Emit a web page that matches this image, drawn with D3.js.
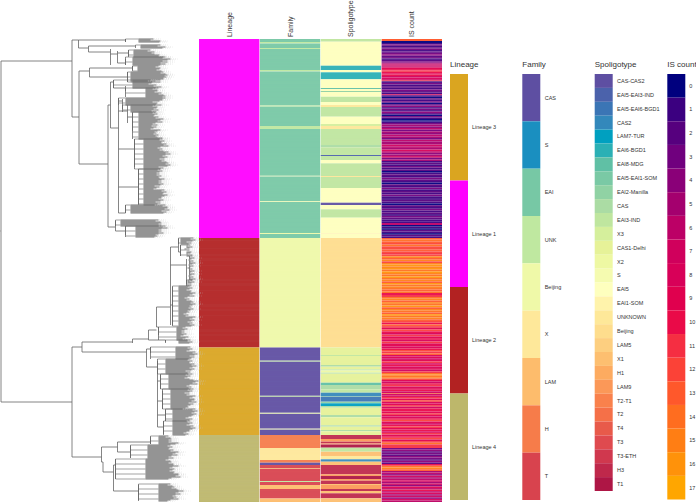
<!DOCTYPE html>
<html>
    <head>
        <title>Tree and heatmap</title>
        <meta charset="utf-8">
        <style>
            body{ margin:0; background:#fff; }
            text{ font-family:"Liberation Sans", Arial, sans-serif; fill:#333; }
        </style>
    </head>
    <body>
        <script src="https://cdn.jsdelivr.net/npm/d3@7"></script>
        <script>

            var width = 696;
            var height = 502;

            // categories, in legend order
            var lineages = ["Lineage 3", "Lineage 1", "Lineage 2", "Lineage 4"];
            var families = ["CAS", "S", "EAI", "UNK", "Beijing", "X", "LAM", "H", "T"];
            var spoligotypes = ["CAS-CAS2", "EAI5-EAI3-IND", "EAI5-EAI6-BGD1", "CAS2", "LAM7-TUR", "EAI6-BGD1",
                "EAI8-MDG", "EAI5-EAI1-SOM", "EAI2-Manilla", "CAS", "EAI3-IND", "X3", "CAS1-Delhi", "X2", "S",
                "EAI5", "EAI1-SOM", "UNKNOWN", "Beijing", "LAM5", "X1", "H1", "LAM9", "T2-T1", "T2", "T4", "T3",
                "T3-ETH", "H3", "T1"];
            var isCounts = d3.range(18);

            var lineageColors = ["#daa520", "#ff00ff", "#b22222", "#bdb76b"];
            var familyColors = ["#5e4fa2", "#1a8fc0", "#77c8a5", "#bfe8a0", "#eff9a8", "#fee89a", "#fdbc6c", "#f67c4a", "#d8434e"];
            var spoligoColors = ["#5e4fa2", "#4b62ab", "#3b75b5", "#3388bb", "#00a0c0", "#2bb0b5", "#60c0a5", "#7ac9a5",
                "#90d2a4", "#abdca4", "#bfe69f", "#d5ef9c", "#e6f298", "#eef8a3", "#f5fbb0", "#feffbe", "#fff3ab",
                "#fee899", "#fedd8d", "#fdcf80", "#fdbf70", "#fdab60", "#fb9858", "#f9814c", "#f57048", "#e85a4a",
                "#df4a4f", "#d0384e", "#bf284b", "#ae1645"];
            var isColors = ["#00007e", "#3b0080", "#56007e", "#70007e", "#8a0078", "#a4006e", "#bc0066", "#d0005c", "#d80058",
                "#e0004e", "#ea0a48", "#f52e42", "#fb4237", "#ff582b", "#ff6d1f", "#ff7e14", "#ff920a", "#ffa600"];

            // heatmap columns: [category, position where the run ends], top to bottom
            var lineageRuns = [["Lineage 1", 199], ["Lineage 2", 308.5], ["Lineage 3", 396], ["Lineage 4", 463]];

            var familyRuns = [["EAI", 3], ["UNK", 4.5], ["EAI", 9], ["UNK", 10], ["EAI", 31], ["UNK", 32.5], ["EAI", 66.5],
                ["UNK", 67.7], ["EAI", 87], ["UNK", 90], ["EAI", 136.8], ["Beijing", 137.5], ["EAI", 162.3], ["Beijing", 163],
                ["EAI", 194], ["Beijing", 195], ["EAI", 199], ["Beijing", 308.5], ["CAS", 321.7], ["UNK", 322.7], ["CAS", 356.8],
                ["UNK", 357.8], ["CAS", 373.8], ["Beijing", 374.8], ["CAS", 389.7], ["Beijing", 390.6], ["CAS", 396], ["H", 409],
                ["X", 421], ["H", 423.7], ["CAS", 426], ["T", 429], ["LAM", 429.8], ["T", 442], ["UNK", 443], ["T", 446],
                ["LAM", 450], ["T", 459.5], ["LAM", 463]];

            var spoligoRuns = [["EAI3-IND", 2.7], ["EAI5", 26.7], ["EAI6-BGD1", 31], ["EAI5", 33.3], ["EAI6-BGD1", 40.3],
                ["EAI5", 49], ["EAI8-MDG", 50], ["EAI5", 52], ["EAI2-Manilla", 53], ["EAI5", 57.7], ["EAI3-IND", 63], ["EAI5", 66],
                ["UNKNOWN", 68], ["EAI3-IND", 77.7], ["EAI5", 85], ["X3", 87], ["UNKNOWN", 90], ["EAI3-IND", 106], ["CAS", 108.3],
                ["EAI3-IND", 116], ["EAI5-EAI3-IND", 117], ["EAI3-IND", 121], ["EAI5", 124.3], ["EAI3-IND", 137], ["UNKNOWN", 138],
                ["EAI3-IND", 149], ["EAI5", 163.7], ["CAS-CAS2", 166], ["EAI5", 170.3], ["EAI3-IND", 178.7], ["EAI5", 194.3],
                ["EAI1-SOM", 195], ["EAI5", 199], ["Beijing", 308.5], ["CAS1-Delhi", 316], ["EAI3-IND", 317], ["CAS1-Delhi", 326],
                ["CAS", 327.7], ["CAS1-Delhi", 330.3], ["EAI3-IND", 331.5], ["X2", 333.7], ["CAS", 334.7], ["CAS1-Delhi", 343.7],
                ["EAI8-MDG", 346], ["CAS", 350.3], ["EAI3-IND", 353.7], ["CAS2", 357], ["EAI2-Manilla", 357.7],
                ["EAI5-EAI6-BGD1", 362.7], ["EAI2-Manilla", 364.3], ["LAM7-TUR", 367], ["CAS", 368.7], ["CAS1-Delhi", 376],
                ["CAS", 378.3], ["CAS1-Delhi", 386.3], ["CAS", 387.7], ["CAS1-Delhi", 391], ["CAS", 392.3], ["CAS1-Delhi", 396],
                ["H3", 400], ["LAM9", 402.7], ["H3", 404.5], ["LAM9", 405.5], ["T1", 408.7], ["EAI3-IND", 412.7], ["X1", 417],
                ["UNKNOWN", 420.3], ["CAS2", 422.7], ["X1", 426], ["H3", 435.3], ["LAM9", 437], ["T1", 440], ["LAM9", 441.7],
                ["H3", 445], ["X1", 446], ["LAM9", 450], ["H3", 452], ["X1", 454.3], ["H3", 459.3], ["X1", 463]];

            // IS count: [position where the block ends, values read in that block]
            var isBlocks = [[2, [13]], [4, [0]],
                [23.7, [1, 3, 1, 2, 3, 1, 2, 3, 4, 2, 3, 1, 2, 3]],
                [28.7, [5, 6, 7, 6, 7]],
                [37, [9, 10, 11, 10, 9, 10]],
                [41.7, [7, 8, 7]],
                [42.3, [13]],
                [55.3, [1, 3, 1, 2, 1, 3, 2, 1]],
                [56.3, [9]],
                [80, [1, 0, 2, 1, 3, 0, 2, 4, 1, 3, 1, 4, 2, 0, 3, 1]],
                [84, [0, 0, 1]],
                [104, [3, 5, 4, 6, 3, 5, 4, 6, 5, 3, 6, 5]],
                [122, [5, 7, 6, 5, 8, 6, 4, 5, 7, 3, 5]],
                [152, [1, 2, 1, 3, 1, 2, 0, 1, 2, 1, 3, 2, 1, 0, 2, 1, 3, 1]],
                [184, [2, 1, 3, 1, 1, 2, 1, 0, 2, 1, 3, 1, 2, 1, 3, 2, 1, 1]],
                [186, [6]],
                [199, [0, 1, 0, 2, 1, 0, 2, 1]],
                [224, [13, 14, 13, 12, 14, 12, 12, 13, 12, 11, 12, 15, 13, 15, 12]],
                [254, [15, 16, 15, 16, 14, 16, 15, 14, 16, 14, 15, 13, 16, 14, 15, 14, 13, 14]],
                [258, [10, 11]],
                [282, [14, 15, 13, 15, 14, 16, 13, 15, 14, 13, 16, 14, 15, 13]],
                [306, [12, 10, 13, 11, 9, 12, 10, 8, 11, 9, 10, 8, 11, 9]],
                [311, [9, 8, 10]],
                [316, [12, 11, 13]],
                [334, [8, 9, 7, 9, 11, 8, 10, 8, 9, 7, 11]],
                [341, [14, 15, 14, 15, 12]],
                [354, [9, 7, 10, 11, 8, 9, 10, 7]],
                [354.7, [15]],
                [371, [7, 8, 11, 9, 12, 8, 9, 11, 7, 10]],
                [407, [10, 9, 11, 9, 8, 10, 12, 9, 7, 10, 11, 9, 10, 8, 11, 9, 10, 12, 9, 11, 14, 11]],
                [409, [11]],
                [425, [3, 4, 2, 3, 2, 4, 3, 2, 4, 2]],
                [432, [10, 14, 15, 13]],
                [463, [5, 6, 4, 7, 5, 6, 8, 5, 7, 4, 9, 6, 10, 6, 8, 5, 7, 4, 8, 6]]];

            // tree branches: [parent distance, node distance, position, child top, child bottom]
            var treeBranches = [
                [0, 0.5, 192, 22, 363],
                [0.5, 71.5, 22, 1, 78],
                [71.5, 78, 1, 1, 9],
                [78, 125, 1, 0, 3],
                [78, 88, 9, 7, 13],
                [88, 135, 7, 7, 7],
                [88, 110, 13, 10, 26],
                [110, 117, 15, 12, 24],
                [117, 128, 14, 11, 17],
                [117, 125, 24, 20, 26],
                [71.5, 78.5, 78, 32, 125],
                [78.5, 89, 32, 29, 38],
                [89, 132, 29, 27, 31],
                [89, 127, 38, 33, 43],
                [78.5, 107.5, 125, 66, 188],
                [107.5, 110, 66, 43, 89],
                [110, 113, 43, 41, 49],
                [113, 125, 49, 47, 52],
                [110, 118, 89, 59, 174],
                [118, 122, 62, 60, 70],
                [118, 127, 72, 66, 84],
                [127, 132, 78, 74, 92],
                [118, 134, 110, 100, 128],
                [118, 138, 148, 130, 165],
                [118, 125, 174, 166, 174],
                [107.5, 115, 188, 182, 192],
                [115, 125, 192, 187, 196],
                [0.5, 71.5, 363, 308, 418],
                [71.5, 81.5, 308, 303, 313],
                [81.5, 132, 303, 300, 304],
                [132, 148, 300, 291, 301],
                [148, 156, 291, 268, 288],
                [156, 170, 268, 208, 286],
                [170, 178, 208, 200, 213],
                [178, 180, 213, 206, 217],
                [170, 186, 226, 220, 245],
                [170, 172, 266, 248, 286],
                [156, 158, 288, 288, 296],
                [148, 165, 301, 301, 303],
                [81.5, 146, 313, 310, 328],
                [146, 150, 310, 308, 314],
                [146, 157, 328, 322, 388],
                [157, 160, 342, 336, 350],
                [157, 162, 362, 352, 370],
                [157, 165, 376, 371, 382],
                [157, 163, 388, 382, 395],
                [71.5, 101, 418, 408, 423],
                [101, 117, 408, 403, 413],
                [117, 150, 403, 398, 405],
                [117, 130, 413, 407, 419],
                [101, 102.5, 423, 423, 433],
                [102.5, 113, 433, 426, 452],
                [113, 115, 426, 420, 440],
                [113, 138, 452, 446, 461]
            ];

            // dense leaf groups: [stem, start of mass, first position, last position, tip distances]
            var leafClumps = [
                [125, 138, 0, 3, [153, 158, 160]],
                [135, 140, 6, 9, [160, 163]],
                [128, 133, 11, 18, [150, 152, 158, 160]],
                [125, 132, 18, 26, [165, 168, 166, 162, 160]],
                [132, 137, 27, 32, [158, 160]],
                [127, 130, 33, 43, [163, 168, 165, 160, 158]],
                [113, 132, 41, 49, [150, 152, 155, 158]],
                [125, 145, 49, 58, [155, 158, 160, 165]],
                [118, 125, 59, 66, [165, 160, 156, 158]],
                [122, 130, 66, 73, [155, 157, 153]],
                [132, 138, 73, 100, [155, 157, 160, 156, 153, 158, 155, 160]],
                [134, 143, 100, 130, [162, 165, 160, 167, 165, 163, 168, 162]],
                [138, 143, 130, 166, [160, 158, 162, 160, 157, 163, 165, 160, 158]],
                [125, 130, 166, 174, [165, 168, 163]],
                [115, 120, 181, 187, [158, 162, 160]],
                [125, 135, 187, 198, [165, 162, 160, 158, 155]],
                [178, 180, 199, 205, [193, 190]],
                [180, 186, 206, 217, [190, 188, 190]],
                [189, 189.5, 217, 241, [192, 191, 192]],
                [186, 187, 241, 247, [192, 190]],
                [172, 178, 247, 287, [190, 192, 188, 193, 190, 187, 192, 191]],
                [158, 176, 288, 301, [185, 183, 186]],
                [165, 178, 301, 304, [190]],
                [150, 175, 308, 320, [190, 194, 192]],
                [157, 165, 320, 335, [190, 193, 192, 189]],
                [160, 168, 335, 350, [188, 195, 190]],
                [162, 170, 350, 370, [190, 188, 192, 195, 190, 186]],
                [165, 172, 370, 382, [195, 195, 188, 190]],
                [163, 172, 382, 396, [190, 192, 187]],
                [150, 158, 397, 405, [168, 172, 170, 175]],
                [130, 147, 406, 419, [170, 172, 175, 172]],
                [115, 145, 420, 440, [168, 172, 175, 172, 173, 175, 178, 172]],
                [138, 158, 445, 462, [170, 175, 180, 178, 176, 175, 170]]
            ];
            var tipOffsets = [0, -3, 2, -1, -4, 1, -2, 3];
            var columnTitles = ["Lineage", "Family", "Spoligotype", "IS count"];

            var svg = d3.select("body")
                    .append("svg")
                    .attr("width", width)
                    .attr("height", height);

            // the picture is soft, rows bleed into each other a bit
            var soft = svg.append("defs").append("filter")
                    .attr("id", "soft")
                    .attr("filterUnits", "userSpaceOnUse")
                    .attr("x", 0).attr("y", 0)
                    .attr("width", width).attr("height", height);
            soft.append("feGaussianBlur").attr("stdDeviation", "0.2 0.45");

            // shared scales
            var yPos = d3.scaleLinear().domain([0, 463]).range([39, 502]);
            var xDist = d3.scaleLinear().domain([0, 200]).range([0.5, 200.5]);
            var xCol = d3.scaleBand().domain(columnTitles).range([199, 442]).paddingInner(0.008);

            function runsToCells(runs, colorOf) {
              var start = 0;
              return runs.map(function(r) {
                var cell = {y0: start, y1: r[1], fill: colorOf(r[0])};
                start = r[1];
                return cell;
              });
            }

            var lineageColor = d3.scaleOrdinal().domain(lineages).range(lineageColors);
            var familyColor = d3.scaleOrdinal().domain(families).range(familyColors);
            var spoligoColor = d3.scaleOrdinal().domain(spoligotypes).range(spoligoColors);
            var isColor = d3.scaleOrdinal().domain(isCounts).range(isColors);

            var isCells = [];
            var blockStart = 0;
            isBlocks.forEach(function(b) {
              var step = (b[0] - blockStart) / b[1].length;
              b[1].forEach(function(v, i) {
                isCells.push({y0: blockStart + i * step, y1: blockStart + (i + 1) * step, fill: isColor(v)});
              });
              blockStart = b[0];
            });

            var columns = [
              {name: "Lineage", cells: runsToCells(lineageRuns, lineageColor)},
              {name: "Family", cells: runsToCells(familyRuns, familyColor)},
              {name: "Spoligotype", cells: runsToCells(spoligoRuns, spoligoColor)},
              {name: "IS count", cells: isCells}
            ];

            // heatmap
            var heat = svg.append("g").attr("filter", "url(#soft)");

            var col = heat.selectAll("g.col")
                    .data(columns)
                    .enter()
                    .append("g")
                    .attr("class", "col");

            col.selectAll("rect")
                    .data(function(d) { return d.cells.map(function(c) { return {c: c, name: d.name}; }); })
                    .enter()
                    .append("rect")
                    .attr("x", function(d) { return xCol(d.name); })
                    .attr("width", xCol.bandwidth())
                    .attr("y", function(d) { return yPos(d.c.y0); })
                    .attr("height", function(d) { return yPos(d.c.y1) - yPos(d.c.y0); })
                    .attr("fill", function(d) { return d.c.fill; });

            // thin white borders between the rows
            var rowLines = d3.scaleLinear().domain([0, 500]).range([39, 502]);
            heat.selectAll("line.row")
                    .data(d3.range(1, 500))
                    .enter()
                    .append("line")
                    .attr("class", "row")
                    .attr("x1", 199)
                    .attr("x2", 442)
                    .attr("y1", function(d) { return rowLines(d); })
                    .attr("y2", function(d) { return rowLines(d); })
                    .attr("stroke", "#fff")
                    .attr("stroke-width", 0.07);

            svg.selectAll("text.coltitle")
                    .data(columnTitles)
                    .enter()
                    .append("text")
                    .attr("class", "coltitle")
                    .attr("transform", function(d) {
                      return "translate(" + (xCol(d) + xCol.bandwidth() / 2 + 2.5) + ",37) rotate(-90)";
                    })
                    .attr("font-size", 7)
                    .text(function(d) { return d; });

            // tree
            var treeG = svg.append("g")
                    .attr("filter", "url(#soft)")
                    .attr("fill", "none")
                    .attr("stroke", "#666")
                    .attr("stroke-width", 0.8);

            treeG.selectAll("path.branch")
                    .data(treeBranches)
                    .enter()
                    .append("path")
                    .attr("class", "branch")
                    .attr("d", function(b) {
                      var p = d3.path();
                      p.moveTo(xDist(b[0]), yPos(b[2]));
                      p.lineTo(xDist(b[1]), yPos(b[2]));
                      p.moveTo(xDist(b[1]), yPos(b[3]));
                      p.lineTo(xDist(b[1]), yPos(b[4]));
                      return p.toString();
                    });

            var leafRows = [];
            leafClumps.forEach(function(c) {
              d3.range(c[2], c[3] + 0.1).forEach(function(pos, i) {
                var frac = (pos - c[2]) / (c[3] - c[2] + 1);
                var tip = c[4][Math.floor(frac * c[4].length)] + tipOffsets[i % tipOffsets.length];
                leafRows.push({stem: c[0], mass: c[1], pos: pos, tip: tip, thin: i % 5 === 0});
              });
            });

            treeG.selectAll("path.clumpstem")
                    .data(leafClumps)
                    .enter()
                    .append("path")
                    .attr("class", "clumpstem")
                    .attr("d", function(c) {
                      var p = d3.path();
                      p.moveTo(xDist(c[0]), yPos(c[2]));
                      p.lineTo(xDist(c[0]), yPos(c[3]));
                      return p.toString();
                    });

            // stems to the mass, the mass itself, then the tiny grey tip labels
            treeG.selectAll("line.stem")
                    .data(leafRows.filter(function(d) { return d.thin; }))
                    .enter()
                    .append("line")
                    .attr("class", "stem")
                    .attr("x1", function(d) { return xDist(d.stem); })
                    .attr("x2", function(d) { return xDist(d.mass); })
                    .attr("y1", function(d) { return yPos(d.pos); })
                    .attr("y2", function(d) { return yPos(d.pos); })
                    .attr("stroke-width", 0.6);

            treeG.selectAll("line.mass")
                    .data(leafRows)
                    .enter()
                    .append("line")
                    .attr("class", "mass")
                    .attr("x1", function(d) { return xDist(d.mass); })
                    .attr("x2", function(d) { return xDist(d.tip); })
                    .attr("y1", function(d) { return yPos(d.pos); })
                    .attr("y2", function(d) { return yPos(d.pos); })
                    .attr("stroke", "#707070")
                    .attr("stroke-width", 1);

            treeG.selectAll("line.tiplabel")
                    .data(leafRows)
                    .enter()
                    .append("line")
                    .attr("class", "tiplabel")
                    .attr("x1", function(d) { return xDist(d.tip + 0.5); })
                    .attr("x2", function(d) { return xDist(d.tip + 7); })
                    .attr("y1", function(d) { return yPos(d.pos); })
                    .attr("y2", function(d) { return yPos(d.pos); })
                    .attr("stroke", "#c4c4c4")
                    .attr("stroke-dasharray", "1,1")
                    .attr("stroke-width", 0.5);

            // legends
            function drawLegend(title, x, items, colors, top, bottom, labelGap) {
              var band = d3.scaleBand().domain(items).range([top, bottom]);
              var g = svg.append("g");

              g.selectAll("rect")
                      .data(items)
                      .enter()
                      .append("rect")
                      .attr("x", x)
                      .attr("y", function(d) { return band(d); })
                      .attr("width", 18)
                      .attr("height", band.bandwidth())
                      .attr("fill", function(d, i) { return colors[i]; });

              g.selectAll("text")
                      .data(items)
                      .enter()
                      .append("text")
                      .attr("x", x + 18 + labelGap)
                      .attr("y", function(d) { return band(d) + band.bandwidth() / 2; })
                      .attr("dy", "0.35em")
                      .attr("font-size", 5.5)
                      .text(function(d) { return d; });

              svg.append("text")
                      .attr("x", x)
                      .attr("y", 67)
                      .attr("font-size", 8)
                      .text(title);
            }

            drawLegend("Lineage", 450, lineages, lineageColors, 74, 500, 4);
            drawLegend("Family", 522.3, families, familyColors, 74, 500, 4.4);
            drawLegend("Spoligotype", 594.7, spoligotypes, spoligoColors, 74, 491, 4.3);
            drawLegend("IS count", 667.3, isCounts, isColors, 74, 499.5, 4);

        </script>
    </body>
</html>
